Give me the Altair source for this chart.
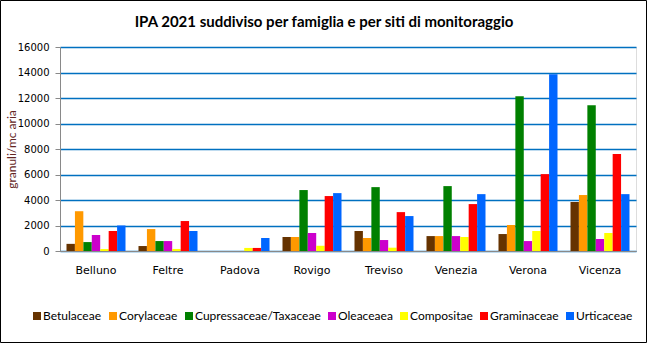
import altair as alt
import pandas as pd

siti = ["Belluno", "Feltre", "Padova", "Rovigo", "Treviso", "Venezia", "Verona", "Vicenza"]
famiglie = ["Betulaceae", "Corylaceae", "Cupressaceae/Taxaceae", "Oleaceaea",
            "Compositae", "Graminaceae", "Urticaceae"]
colori = ["#663300", "#FF9900", "#008000", "#CC00CC", "#FFFF00", "#FF0000", "#0066FF"]

betulaceae = [560, 390, 0, 1100, 1570, 1170, 1330, 3840]
corylaceae = [3120, 1720, 0, 1100, 1020, 1170, 2040, 4390]
cupressaceae = [700, 780, 0, 4780, 5010, 5090, 12140, 11430]
oleaceaea = [1250, 780, 0, 1410, 860, 1170, 780, 940]
compositae = [150, 160, 240, 410, 260, 1100, 1570, 1410]
graminaceae = [1570, 2350, 240, 4310, 3050, 3680, 6030, 7600]
urticaceae = [2000, 1570, 1020, 4540, 2740, 4460, 13860, 4460]

serie = [betulaceae, corylaceae, cupressaceae, oleaceaea, compositae, graminaceae, urticaceae]
rows = []
for fam, vals in zip(famiglie, serie):
    for sito, v in zip(siti, vals):
        rows.append({"sito": sito, "famiglia": fam, "valore": v})
df = pd.DataFrame(rows)

W, H = 576, 204

bars = alt.Chart(df).mark_bar(size=8.4).encode(
    x=alt.X("sito:N", sort=siti, title=None,
            scale=alt.Scale(paddingInner=0.18, paddingOuter=0.09),
            axis=alt.Axis(labelAngle=0, ticks=False, labelPadding=13,
                          domainColor="#898989", labelFont="DejaVu Sans",
                          labelFontSize=11, labelColor="#000000", grid=False)),
    xOffset=alt.XOffset("famiglia:N", sort=famiglie,
                        scale=alt.Scale(paddingInner=0, paddingOuter=0)),
    y=alt.Y("valore:Q", title="granuli/mc aria",
            scale=alt.Scale(domain=[0, 16000], nice=False),
            axis=alt.Axis(values=list(range(0, 16001, 2000)), format="d",
                          grid=True, gridColor="#0070C0", gridWidth=1.4,
                          domainColor="#898989", tickColor="#898989", tickSize=5,
                          labelPadding=6, labelFont="DejaVu Sans", labelFontSize=10,
                          labelColor="#000000", titleFont="Lato", titleFontSize=12,
                          titleFontWeight="normal", titleColor="#632523",
                          titlePadding=-1)),
    color=alt.Color("famiglia:N", sort=famiglie,
                    scale=alt.Scale(domain=famiglie, range=colori),
                    legend=alt.Legend(title=None, orient="none", direction="horizontal",
                                      columns=7, legendX=-29, legendY=263,
                                      symbolType="square", symbolSize=64,
                                      symbolStrokeWidth=0, labelFont="Lato",
                                      labelFontSize=12, labelColor="#000000",
                                      labelOffset=0, columnPadding=5)),
)

border = alt.Chart(pd.DataFrame({"k": [0]})).mark_rect(
    fill=None, stroke="#000000", strokeWidth=1
).encode(
    x=alt.value(-59.5), x2=alt.value(586.5), y=alt.value(-46.5), y2=alt.value(295.5)
)

chart = alt.layer(bars, border).properties(
    width=W, height=H,
    title=alt.TitleParams(
        text="IPA 2021 suddiviso per famiglia e per siti di monitoraggio",
        font="Lato", fontSize=15, fontWeight="bold", color="#000000",
        anchor="middle", frame="group", dx=-24, offset=0, dy=45, baseline="bottom"),
    padding={"left": 60, "top": 47, "right": 12, "bottom": 94},
    autosize=alt.AutoSizeParams(type="none"),
).configure_view(
    fill="#F2F2F2", stroke="#0070C0", strokeWidth=1.4
).configure(background="#FFFFFF")

chart.save("out.html", embed_options={"renderer": "svg", "actions": False})
